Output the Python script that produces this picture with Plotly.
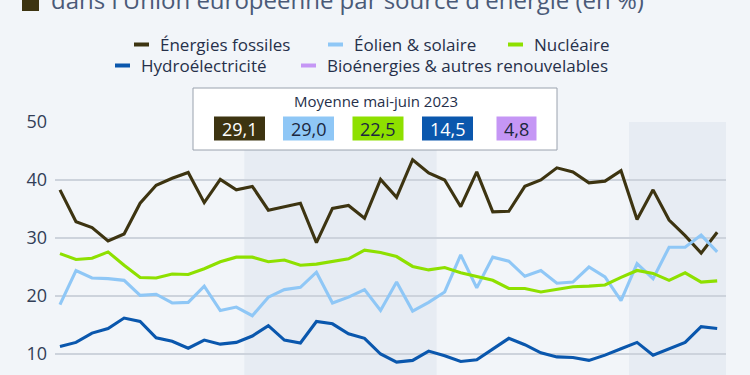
import plotly.graph_objects as go

# ---------------- data ----------------
month_names = ["janv.", "févr.", "mars", "avr.", "mai", "juin",
               "juil.", "août", "sept.", "oct.", "nov.", "déc."]
years = [2020, 2021, 2022, 2023]
months = [f"{m} {y}" for y in years for m in month_names][:42]

fossiles = [38.3, 32.8, 31.8, 29.5, 30.7, 36.0, 39.1, 40.3, 41.3, 36.1, 40.1, 38.3,
            38.9, 34.8, 35.4, 36.0, 29.2, 35.1, 35.6, 33.4, 40.1, 37.0, 43.5, 41.2,
            40.0, 35.4, 41.4, 34.5, 34.6, 38.9, 40.0, 42.1, 41.4, 39.5, 39.8, 41.6,
            33.2, 38.3, 33.1, 30.4, 27.4, 31.0]
eolien_solaire = [18.5, 24.4, 23.1, 23.0, 22.7, 20.1, 20.3, 18.8, 18.9, 21.7, 17.5, 18.1,
                  16.6, 19.8, 21.1, 21.5, 24.1, 18.8, 19.8, 21.1, 17.5, 22.4, 17.4, 18.9,
                  20.7, 27.1, 21.4, 26.7, 26.0, 23.4, 24.4, 22.2, 22.4, 25.0, 23.3, 19.2,
                  25.6, 23.0, 28.4, 28.4, 30.5, 27.6]
nucleaire = [27.3, 26.3, 26.5, 27.6, 25.3, 23.2, 23.1, 23.8, 23.7, 24.7, 25.9, 26.7,
             26.7, 25.9, 26.2, 25.3, 25.5, 25.9, 26.4, 27.9, 27.5, 26.8, 25.1, 24.5,
             24.9, 24.0, 23.3, 22.7, 21.3, 21.3, 20.7, 21.2, 21.6, 21.7, 21.9, 23.2,
             24.4, 23.9, 22.7, 24.0, 22.4, 22.6]
hydro = [11.3, 12.0, 13.6, 14.4, 16.2, 15.6, 12.8, 12.2, 11.0, 12.4, 11.7, 12.0,
         13.1, 14.9, 12.4, 11.9, 15.6, 15.2, 13.5, 12.7, 10.0, 8.6, 8.9, 10.5,
         9.7, 8.7, 9.0, 10.9, 12.7, 11.6, 10.2, 9.5, 9.4, 8.9, 9.8, 10.9,
         12.0, 9.8, 10.9, 12.0, 14.7, 14.4]

series_names = ["Énergies fossiles", "Éolien & solaire", "Nucléaire",
                "Hydroélectricité", "Bioénergies & autres renouvelables"]
series_colors = ["#3d3411", "#8fc7f6", "#8ee000", "#0a57ad", "#c596f5"]
averages = ["29,1", "29,0", "22,5", "14,5", "4,8"]
average_text_colors = ["#ffffff", "#1c2740", "#1c2740", "#ffffff", "#1c2740"]
average_title = "Moyenne mai-juin 2023"
title_text = "dans l'Union européenne par source d'énergie (en %)"
y_ticks = [10, 20, 30, 40, 50]

# ---------------- layout helpers ----------------
W, H = 750, 375
ML, MR, MT, MB = 55, 24, 122, 0
PW, PH = W - ML - MR, H - MT - MB


def px(x):
    return (x - ML) / PW


def py(y):
    return (H - y) / PH


FONT = "Open Sans"
BG = "#f2f5f9"
BAND = "#e7ecf3"
TXT = "#26304a"

fig = go.Figure()
data_series = [fossiles, eolien_solaire, nucleaire, hydro]
for name, vals, col in zip(series_names[:4], data_series, series_colors[:4]):
    fig.add_trace(go.Scatter(x=months, y=vals, mode="lines", name=name,
                             line=dict(color=col, width=3.1), showlegend=False,
                             hoverinfo="skip"))

shapes = []
# year bands (2021, 2023)
shapes.append(dict(type="rect", xref="x", yref="paper", x0=11.5, x1=23.5, y0=0, y1=1,
                   fillcolor=BAND, line=dict(width=0), layer="below"))
shapes.append(dict(type="rect", xref="x", yref="paper", x0=35.5, x1=41.6, y0=0, y1=1,
                   fillcolor=BAND, line=dict(width=0), layer="below"))
# average box
shapes.append(dict(type="rect", xref="paper", yref="paper", x0=px(193), x1=px(557),
                   y0=py(150), y1=py(88), fillcolor="#ffffff",
                   line=dict(color="#9aa2ae", width=1), layer="above"))
annotations = []
annotations.append(dict(text=average_title, xref="paper", yref="paper", x=px(376), y=py(101),
                        xanchor="center", yanchor="middle", showarrow=False,
                        font=dict(family=FONT, size=15, color=TXT)))
box_centers = [239.5, 308.5, 378, 447.5, 516.5]
box_widths = [51, 51, 51, 51, 40]
for c, w, col, val, tc in zip(box_centers, box_widths, series_colors, averages, average_text_colors):
    shapes.append(dict(type="rect", xref="paper", yref="paper", x0=px(c - w / 2), x1=px(c + w / 2),
                       y0=py(140.5), y1=py(116.5), fillcolor=col, line=dict(width=0), layer="above"))
    annotations.append(dict(text=val, xref="paper", yref="paper", x=px(c), y=py(129),
                            xanchor="center", yanchor="middle", showarrow=False,
                            font=dict(family=FONT, size=18, color=tc)))

# manual legend
legend_pos = [(134, 44.5), (328, 44.5), (508, 44.5), (115, 65.5), (301, 65.5)]
for (lx, ly), name, col in zip(legend_pos, series_names, series_colors):
    shapes.append(dict(type="rect", xref="paper", yref="paper", x0=px(lx), x1=px(lx + 15),
                       y0=py(ly + 2), y1=py(ly - 2), fillcolor=col, line=dict(width=0),
                       layer="above"))
    annotations.append(dict(text=name, xref="paper", yref="paper", x=px(lx + 24), y=py(ly),
                            xanchor="left", yanchor="middle", showarrow=False,
                            font=dict(family=FONT, size=17, color=TXT)))

# title (partially cut at top)
shapes.append(dict(type="rect", xref="paper", yref="paper", x0=px(22), x1=px(39),
                   y0=py(11), y1=py(-6), fillcolor="#3d3411", line=dict(width=0), layer="above"))
annotations.append(dict(text=title_text, xref="paper", yref="paper", x=px(49), y=py(0),
                        xanchor="left", yanchor="middle", showarrow=False,
                        font=dict(family=FONT, size=24, color="#4a5a78")))

fig.update_layout(
    width=W, height=H,
    margin=dict(l=ML, r=MR, t=MT, b=MB, pad=0),
    paper_bgcolor=BG, plot_bgcolor=BG,
    showlegend=False,
    shapes=shapes, annotations=annotations,
    xaxis=dict(type="category", range=[-0.31, 41.55], showticklabels=False,
               showgrid=False, zeroline=False, showline=False, ticks="",
               automargin=False),
    yaxis=dict(range=[10 - 21 / 5.8, 50], tickvals=y_ticks, showgrid=True,
               gridcolor="#cdd3dc", gridwidth=1.5, zeroline=False, showline=False,
               ticks="", ticklabelstandoff=7,
               tickfont=dict(family=FONT, size=18, color="#333e57"),
               automargin=False),
)

fig.write_html("out.html",
               config={"displayModeBar": False, "staticPlot": True},
               post_script="document.body.style.margin='0';"
                           "document.body.style.background='#f2f5f9';")
